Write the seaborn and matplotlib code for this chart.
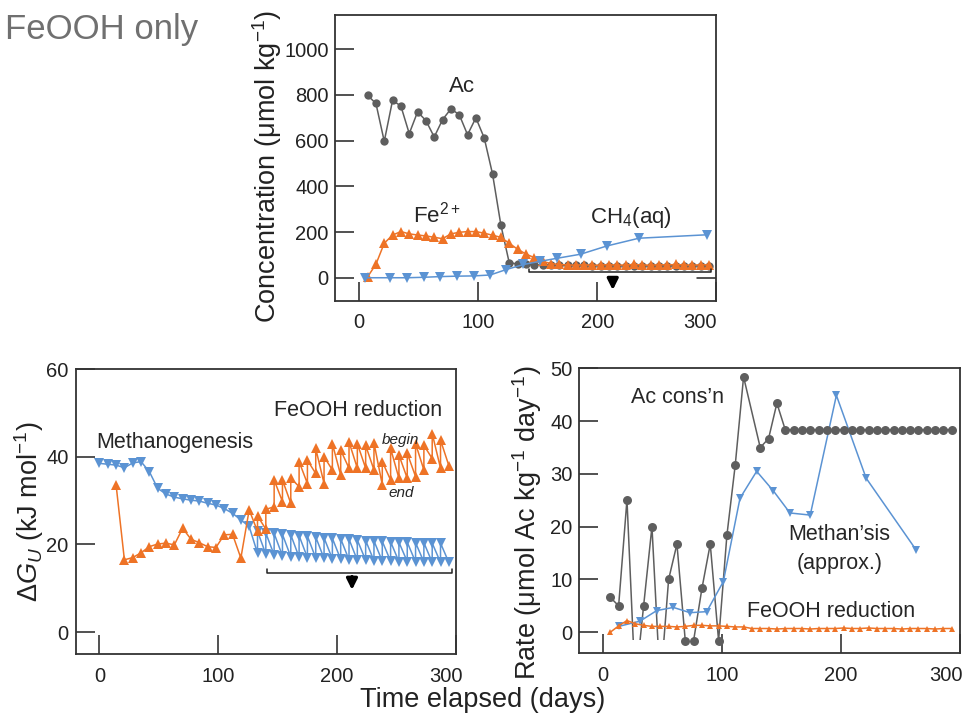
import pandas as pd
import seaborn as sns
import matplotlib.pyplot as plt
from matplotlib.patches import Rectangle
from matplotlib.transforms import ScaledTranslation

sns.set_style('white')
plt.rcParams['font.family'] = ['Liberation Sans', 'DejaVu Sans']
plt.rcParams['mathtext.fontset'] = 'custom'
plt.rcParams['mathtext.rm'] = 'Liberation Sans'
plt.rcParams['mathtext.it'] = 'Liberation Sans:italic'
plt.rcParams['mathtext.bf'] = 'Liberation Sans:bold'

GRAY = '#5e5e5e'
ORANGE = '#ee7326'
BLUE = '#5b93d3'
INK = '#222222'

# ---- top panel: concentrations (umol/kg)
ac_days = [7, 14, 21, 28, 35, 42, 49, 56, 63, 70, 77, 84, 91, 98, 105, 112, 119, 126,
           133, 140, 147, 154, 161, 168, 175, 182, 189, 196, 203, 210, 217, 224, 231,
           238, 245, 252, 259, 266, 273, 280, 287, 294]
ac_conc = [798, 763, 597, 777, 751, 631, 726, 688, 616, 692, 739, 714, 626, 700, 612, 454, 231, 66,
           60, 58, 57, 56, 55, 55, 54, 54, 54, 53, 53, 53, 53, 52, 52,
           52, 52, 52, 52, 52, 52, 52, 52, 52]
fe_conc = [4, 59, 151, 187, 202, 192, 187, 183, 177, 171, 192, 199, 202, 202, 195, 186, 177, 151,
           125, 104, 88, 72, 62, 58, 56, 55, 57, 54, 56, 57, 55, 56, 58, 56,
           55, 57, 56, 58, 56, 55, 57, 56]
ch4_days = [5, 26, 40, 54, 68, 82, 96, 110, 123, 138, 152, 166, 186, 208, 235, 292]
ch4_conc = [0, 0, 0, 2, 5, 7, 8, 12, 35, 58, 72, 85, 103, 139, 173, 188]

# ---- bottom left: energy available (kJ/mol)
mg_days = [0, 7, 14, 21, 28, 35, 42, 49, 56, 63, 70, 77, 84, 91, 98, 105, 112, 119]
mg_dg = [38.5, 38.3, 38.1, 37.5, 38.6, 38.9, 36.6, 32.8, 31.5, 30.8, 30.4, 30.1,
         29.9, 29.4, 29.0, 28.2, 27.1, 25.6]
fr_days = [14, 21, 28, 35, 42, 49, 56, 63, 70, 77, 84, 91, 98, 105, 112, 119]
fr_dg = [33.6, 16.5, 17.0, 18.1, 19.5, 20.1, 20.3, 19.9, 23.7, 21.2, 20.4, 19.5,
         19.3, 22.2, 22.3, 16.9]
# begin / end of each weekly step afterwards
step_days = [126, 133, 140, 147, 154, 161, 168, 175, 182, 189, 196, 203,
             210, 217, 224, 231, 238, 245, 252, 259, 266, 273, 280, 287]
mg_begin = [24.1, 23.0, 22.6, 22.5, 22.3, 22.2, 22.0, 21.9, 21.7, 21.5, 21.4, 21.3,
            21.2, 21.0, 20.9, 20.8, 20.7, 20.6, 20.5, 20.5, 20.4, 20.4, 20.3, 20.3]
mg_end = [18.0, 17.8, 17.6, 17.4, 17.2, 17.1, 17.0, 16.9, 16.8, 16.7, 16.6, 16.5,
          16.4, 16.4, 16.3, 16.2, 16.2, 16.1, 16.1, 16.0, 16.0, 15.9, 15.9, 15.9]
fr_begin = [27.9, 26.5, 28.0, 34.7, 34.7, 35.1, 38.9, 39.2, 41.9, 40.0, 43.0, 41.5,
            43.4, 43.0, 42.6, 43.2, 38.9, 41.9, 40.4, 40.8, 43.0, 42.6, 45.3, 43.8]
fr_end = [23.0, 23.5, 28.6, 29.8, 29.4, 33.2, 33.9, 36.2, 33.9, 37.0, 35.8, 37.4,
          37.4, 37.4, 37.0, 33.6, 34.7, 35.1, 35.1, 35.5, 37.0, 39.6, 37.4, 38.0]

# ---- bottom right: rates (umol Ac/kg/day)
acr_days = [6, 13, 20, 27, 34, 41, 48, 55, 62, 69, 76, 83, 90, 97, 104, 111, 118,
            132, 139, 146, 153, 160, 167, 174, 181, 188, 195, 202, 209, 216, 223,
            230, 237, 244, 251, 258, 265, 272, 279, 286, 293]
acr_rate = [6.6, 5.0, 25.1, -10.3, 5.0, 20.0, -10.3, 10.0, 16.7, -1.6, -1.6, 8.3, 16.7,
            -1.6, 18.4, 31.7, 48.4, 35.0, 36.7, 43.4, 38.4, 38.4, 38.4, 38.4, 38.4, 38.4,
            38.4, 38.4, 38.4, 38.4, 38.4, 38.4, 38.4, 38.4, 38.4, 38.4, 38.4, 38.4,
            38.4, 38.4, 38.4]
mgr_days = [13, 31, 45, 59, 73, 87, 101, 115, 129, 143, 157, 174, 196, 221, 263]
mgr_rate = [1.1, 2.1, 4.1, 4.7, 3.7, 3.9, 9.6, 25.4, 30.5, 26.8, 22.6, 22.2, 44.9, 29.2, 15.6]
frr_days = [6, 13, 20, 27, 34, 41, 48, 55, 62, 69, 76, 83, 90, 97, 104, 111, 118, 125,
            132, 139, 146, 153, 160, 167, 174, 181, 188, 195, 202, 209, 216, 223, 230,
            237, 244, 251, 258, 265, 272, 279, 286, 293]
frr_rate = [0.0, 1.2, 2.2, 1.6, 1.3, 1.1, 1.1, 1.1, 1.0, 1.1, 1.3, 1.3, 1.2, 1.2, 1.1, 1.0,
            1.0, 0.7, 0.7, 0.7, 0.6, 0.7, 0.7, 0.7, 0.6, 0.7, 0.7, 0.7, 0.8, 0.7, 0.7,
            0.8, 0.7, 0.7, 0.7, 0.6, 0.7, 0.7, 0.7, 0.6, 0.7, 0.7]


def sawtooth(start_days, start_vals, days, begin, end, step=7):
    # single line first, then begin -> end of each step
    x, y = list(start_days), list(start_vals)
    for d, b, e in zip(days, begin, end):
        x += [d, d + step]
        y += [b, e]
    return x, y


def line(ax, x, y, color, marker, ms, **kw):
    sns.lineplot(x=x, y=y, ax=ax, color=color, marker=marker, markersize=ms,
                 markeredgecolor=color, markeredgewidth=0, linewidth=1.1,
                 sort=False, estimator=None, **kw)


def style(ax, ylim, yticks, shift):
    ax.set_xlim(-20, 300)
    ax.set_ylim(*ylim)
    ax.set_xticks([0, 100, 200, 300])
    ax.set_yticks(yticks)
    ax.tick_params(bottom=True, left=True, top=False, right=False,
                   direction='in', length=13.5, width=1.1, color=INK,
                   labelsize=14.5, labelcolor=INK)
    ax.tick_params(axis='x', pad=9)
    ax.tick_params(axis='y', pad=5)
    for s in ax.spines.values():
        s.set_color('#333333')
        s.set_linewidth(1.3)
    # last x label sits a bit inside the frame
    lab = ax.get_xticklabels()[-1]
    lab.set_transform(lab.get_transform() + ScaledTranslation(-shift / 100, 0, ax.figure.dpi_scale_trans))


fig = plt.figure(figsize=(9.64, 7.14), dpi=100)
ax_top = fig.add_axes([0.348, 0.579, 0.395, 0.400])
ax_dg = fig.add_axes([0.0785, 0.084, 0.3945, 0.399])
ax_rate = fig.add_axes([0.601, 0.085, 0.395, 0.399])

# top panel
line(ax_top, ac_days, ac_conc, GRAY, 'o', 6)
line(ax_top, ac_days, fe_conc, ORANGE, '^', 6.5)
line(ax_top, ch4_days, ch4_conc, BLUE, 'v', 6.5)
style(ax_top, (-100, 1150), range(0, 1001, 200), 16)
ax_top.set_ylabel('Concentration (μmol kg$^{-1}$)', fontsize=19.5, color=INK)
ax_top.yaxis.set_label_coords(-0.136, 0.47)
ax_top.text(86, 837, 'Ac', fontsize=16, ha='center', va='center')
ax_top.text(65, 275, 'Fe$^{2+}$', fontsize=16, ha='center', va='center')
ax_top.text(228, 265, 'CH$_4$(aq)', fontsize=16, ha='center', va='center')
ax_top.plot([143, 143, 296, 296], [38, 26, 26, 38], color=INK, lw=1.1)
ax_top.plot([284, 300], [0, 0], color=INK, lw=1.1)
ax_top.annotate('', xy=(213, -66), xytext=(213, -2),
                arrowprops=dict(arrowstyle='-|>', color='k', lw=2.4, mutation_scale=16))

# bottom left panel
mx, my = sawtooth(mg_days, mg_dg, step_days, mg_begin, mg_end)
fx, fy = sawtooth(fr_days, fr_dg, step_days, fr_begin, fr_end)
line(ax_dg, mx, my, BLUE, 'v', 7)
line(ax_dg, fx, fy, ORANGE, '^', 7)
style(ax_dg, (-5, 60), [0, 20, 40, 60], 10)
ax_dg.set_ylabel(r'$\Delta G_U$ (kJ mol$^{-1}$)', fontsize=19.5, color=INK)
ax_dg.yaxis.set_label_coords(-0.078, 0.5)
ax_dg.text(-3, 43.3, 'Methanogenesis', fontsize=15.5, ha='left', va='center')
ax_dg.text(147, 50.6, 'FeOOH reduction', fontsize=15.5, ha='left', va='center')
ax_dg.text(253, 43.8, 'begin', fontsize=11, style='italic', ha='center', va='center')
ax_dg.text(254, 31.7, 'end', fontsize=11, style='italic', ha='center', va='center')
ax_dg.plot([141, 141, 297, 297], [14.4, 13.5, 13.5, 14.4], color=INK, lw=1.1)
ax_dg.annotate('', xy=(212.5, 9.0), xytext=(212.5, 13.3),
               arrowprops=dict(arrowstyle='-|>', color='k', lw=2.4, mutation_scale=16))

# bottom right panel
acr = pd.DataFrame({'day': acr_days, 'rate': acr_rate})
sns.lineplot(data=acr, x='day', y='rate', ax=ax_rate, color=GRAY, linewidth=1.1,
             sort=False, estimator=None)
ax_rate.lines[-1].set_clip_path(Rectangle((-20, -1.5), 320, 60, transform=ax_rate.transData))
shown = acr[acr['rate'] > -5]
sns.scatterplot(data=shown, x='day', y='rate', ax=ax_rate, color=GRAY, s=42,
                linewidth=0, zorder=3)
line(ax_rate, mgr_days, mgr_rate, BLUE, 'v', 5.5)
line(ax_rate, frr_days, frr_rate, ORANGE, '^', 5)
style(ax_rate, (-4, 50), range(0, 51, 10), 14)
ax_rate.set_ylabel('Rate (μmol Ac kg$^{-1}$ day$^{-1}$)', fontsize=19.5, color=INK)
ax_rate.yaxis.set_label_coords(-0.092, 0.46)
ax_rate.text(23, 44.4, 'Ac cons\u2019n', fontsize=15.5, ha='left', va='center')
ax_rate.text(198.5, 18.6, 'Methan\u2019sis', fontsize=15.5, ha='center', va='center')
ax_rate.text(198.5, 13.1, '(approx.)', fontsize=15.5, ha='center', va='center')
ax_rate.text(121, 4.0, 'FeOOH reduction', fontsize=15.5, ha='left', va='center')

for ax in (ax_top, ax_dg, ax_rate):
    ax.set_xlabel('')

fig.text(0.501, 0.02, 'Time elapsed (days)', fontsize=19.5, ha='center', va='center', color=INK)
fig.text(0.005, 0.958, 'FeOOH only', fontsize=25, color='#707070', ha='left', va='center')

fig.savefig('out.png', dpi=100)
